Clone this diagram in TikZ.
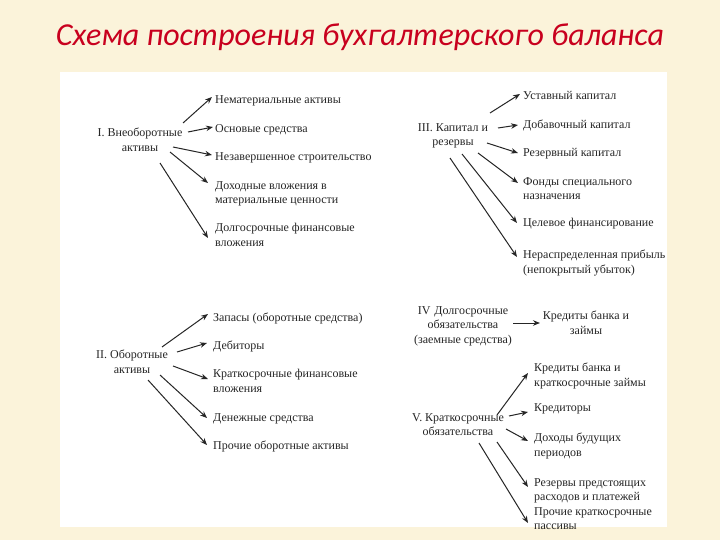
\documentclass[tikz,border=0pt]{standalone}
\usepackage{fontspec}
\setmainfont{Liberation Serif}
\newfontfamily\titlefont{Carlito}
\usetikzlibrary{arrows.meta}
\definecolor{bgcream}{HTML}{FBF3DA}
\definecolor{titlered}{HTML}{C8001E}
\definecolor{inkgray}{HTML}{262626}
\tikzset{
  item/.style={anchor=north west, inner sep=0pt, align=left, font=\fontsize{12}{14.5}\selectfont, text=inkgray},
  head/.style={anchor=north, inner sep=0pt, align=center, font=\fontsize{12}{14.5}\selectfont, text=inkgray},
  arr/.style={-{Stealth[length=7pt,width=5.5pt]}, line width=1pt, draw=inkgray},
}
\begin{document}
\begin{tikzpicture}[x=1pt,y=-1pt]
\fill[bgcream] (0,0) rectangle (720,540);
\useasboundingbox (0,0) rectangle (720,540);
\fill[white] (60,72) rectangle (667,527);
\node[font=\titlefont\itshape\fontsize{32}{36}\selectfont, text=titlered, inner sep=0pt] (title) at (360,37) {Схема построения бухгалтерского баланса};

% Block I
\node[head] (I) at (140,128) {I. Внеоборотные\\активы};
\node[item] (a1) at (215,95) {Нематериальные активы};
\node[item] (a2) at (215,124) {Основые средства};
\node[item] (a3) at (215,152) {Незавершенное строительство};
\node[item] (a4) at (215,181) {Доходные вложения в\\материальные ценности};
\node[item] (a5) at (215,223) {Долгосрочные финансовые\\вложения};
\draw[arr] ([shift={(43,-5)}]I.north) -- ([shift={(-3,2)}]a1.north west);
\draw[arr] ([shift={(48,4)}]I.north) -- ([shift={(-2,3)}]a2.north west);
\draw[arr] ([shift={(33,19)}]I.north) -- ([shift={(-3,3)}]a3.north west);
\draw[arr] ([shift={(30,24)}]I.north) -- ([shift={(-7,2)}]a4.north west);
\draw[arr] ([shift={(20,35)}]I.north) -- ([shift={(-7,15)}]a5.north west);

% Block III
\node[head] (III) at (453,123) {III. Капитал и\\резервы};
\node[item] (c1) at (523,91) {Уставный капитал};
\node[item] (c2) at (523,120) {Добавочный капитал};
\node[item] (c3) at (523,148) {Резервный капитал};
\node[item] (c4) at (523,177) {Фонды специального\\назначения};
\node[item] (c5) at (523,218) {Целевое финансирование};
\node[item] (c6) at (523,250) {Нераспределенная прибыль\\(непокрытый убыток)};
\draw[arr] ([shift={(37,-10)}]III.north) -- ([shift={(-3,3)}]c1.north west);
\draw[arr] ([shift={(45,5)}]III.north) -- ([shift={(-5,5)}]c2.north west);
\draw[arr] ([shift={(34,20)}]III.north) -- ([shift={(-5,5)}]c3.north west);
\draw[arr] ([shift={(25,30)}]III.north) -- ([shift={(-5,6)}]c4.north west);
\draw[arr] ([shift={(9,31)}]III.north) -- ([shift={(-6,5)}]c5.north west);
\draw[arr] ([shift={(-3,35)}]III.north) -- ([shift={(-6,7)}]c6.north west);

% Block II
\node[head] (II) at (132,350) {II. Оборотные\\активы};
\node[item] (b1) at (213,313) {Запасы (оборотные средства)};
\node[item] (b2) at (213,341) {Дебиторы};
\node[item] (b3) at (213,369) {Краткосрочные финансовые\\вложения};
\node[item] (b4) at (213,413) {Денежные средства};
\node[item] (b5) at (213,441) {Прочие оборотные активы};
\draw[arr] ([shift={(30,-3)}]II.north) -- ([shift={(-5,1)}]b1.north west);
\draw[arr] ([shift={(45,2)}]II.north) -- ([shift={(-6,2)}]b2.north west);
\draw[arr] ([shift={(41,16)}]II.north) -- ([shift={(-5,10)}]b3.north west);
\draw[arr] ([shift={(28,25)}]II.north) -- ([shift={(-6,5)}]b4.north west);
\draw[arr] ([shift={(16,30)}]II.north) -- ([shift={(-6,4)}]b5.north west);

% Block IV
\node[head] (IV) at (463,306) {IV\,\,Долгосрочные\\обязательства\\(заемные средства)};
\node[head] (d1) at (586,311) {Кредиты банка и\\займы};
\draw[arr] ([shift={(50,17)}]IV.north) -- ([shift={(-46,12)}]d1.north);

% Block V
\node[head] (V) at (458,413) {V. Краткосрочные\\обязательства};
\node[item] (e1) at (534,363) {Кредиты банка и\\краткосрочные займы};
\node[item] (e2) at (534,403) {Кредиторы};
\node[item] (e3) at (534,433) {Доходы будущих\\периодов};
\node[item] (e4) at (534,478) {Резервы предстоящих\\расходов и платежей};
\node[item] (e5) at (534,507) {Прочие краткосрочные\\пассивы};
\draw[arr] ([shift={(39,2)}]V.north) -- ([shift={(-6,10)}]e1.north west);
\draw[arr] ([shift={(51,3)}]V.north) -- ([shift={(-6,9)}]e2.north west);
\draw[arr] ([shift={(48,16)}]V.north) -- ([shift={(-6,8)}]e3.north west);
\draw[arr] ([shift={(39,29)}]V.north) -- ([shift={(-6,9)}]e4.north west);
\draw[arr] ([shift={(21,30)}]V.north) -- ([shift={(-6,16)}]e5.north west);
\end{tikzpicture}
\end{document}
